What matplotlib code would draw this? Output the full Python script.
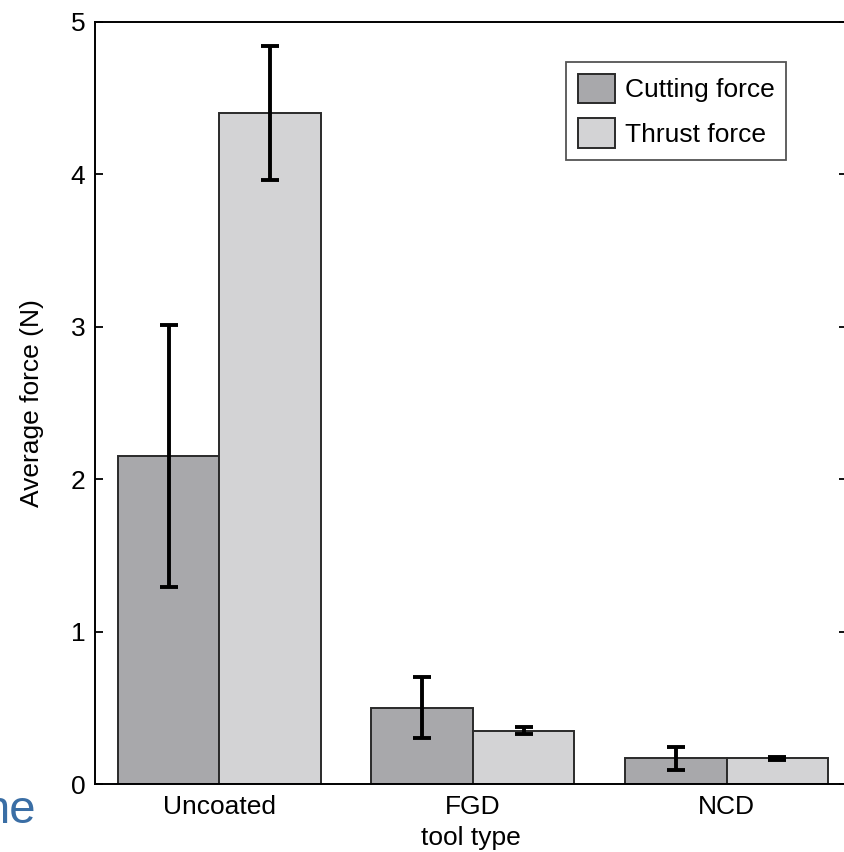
import numpy as np
from matplotlib import pyplot as plt

plt.rcParams['font.family'] = ['Liberation Sans', 'DejaVu Sans']

# data
tool_types = ['Uncoated', 'FGD', 'NCD']
cutting_force = [2.15, 0.50, 0.17]
cutting_err = [0.86, 0.20, 0.075]
thrust_force = [4.40, 0.35, 0.17]
thrust_err = [0.44, 0.025, 0.01]

x = np.arange(len(tool_types))
w = 0.4

fig = plt.figure(figsize=(8.44, 8.52), dpi=100)
ax = fig.add_axes([95/844, 1-784/852, (847-95)/844, (784-22)/852])

errkw = dict(elinewidth=2.8, capthick=2.8, capsize=6.5, ecolor='black')
ax.bar(x-w/2, cutting_force, w, yerr=cutting_err, color='#a8a8ab',
       edgecolor='#2a2a2a', linewidth=1.4, label='Cutting force', error_kw=errkw)
ax.bar(x+w/2, thrust_force, w, yerr=thrust_err, color='#d3d3d5',
       edgecolor='#2a2a2a', linewidth=1.4, label='Thrust force', error_kw=errkw)

ax.set_xlim(-0.49, 2.475)
ax.set_ylim(0, 5)
ax.set_xticks(x)
ax.set_xticklabels(tool_types, fontsize=19)
ax.set_yticks(range(6))
ax.tick_params(axis='y', direction='in', right=True, length=6, width=1.3, labelsize=19, pad=7)
ax.tick_params(axis='x', length=0, pad=8)
for s in ax.spines.values():
    s.set_linewidth(1.4)
ax.set_xlabel('tool type', fontsize=19, labelpad=5)
ax.set_ylabel('Average force (N)', fontsize=19, labelpad=19)

leg = ax.legend(loc='upper left', bbox_to_anchor=((566-95)/752, 1-(62-22)/762),
                fontsize=19, frameon=True, fancybox=False, edgecolor='#2a2a2a',
                handlelength=1.4, handleheight=1.35, handletextpad=0.38,
                borderpad=0.45, labelspacing=0.55, borderaxespad=0)
leg.get_frame().set_linewidth(1.3)

# cropped caption fragment at the lower left of the source image
fig.text(36/844, 1-823/852, 'ne', ha='right', va='baseline', fontsize=34,
         color='#3a6ea5')

plt.savefig('out.png', dpi=100)
